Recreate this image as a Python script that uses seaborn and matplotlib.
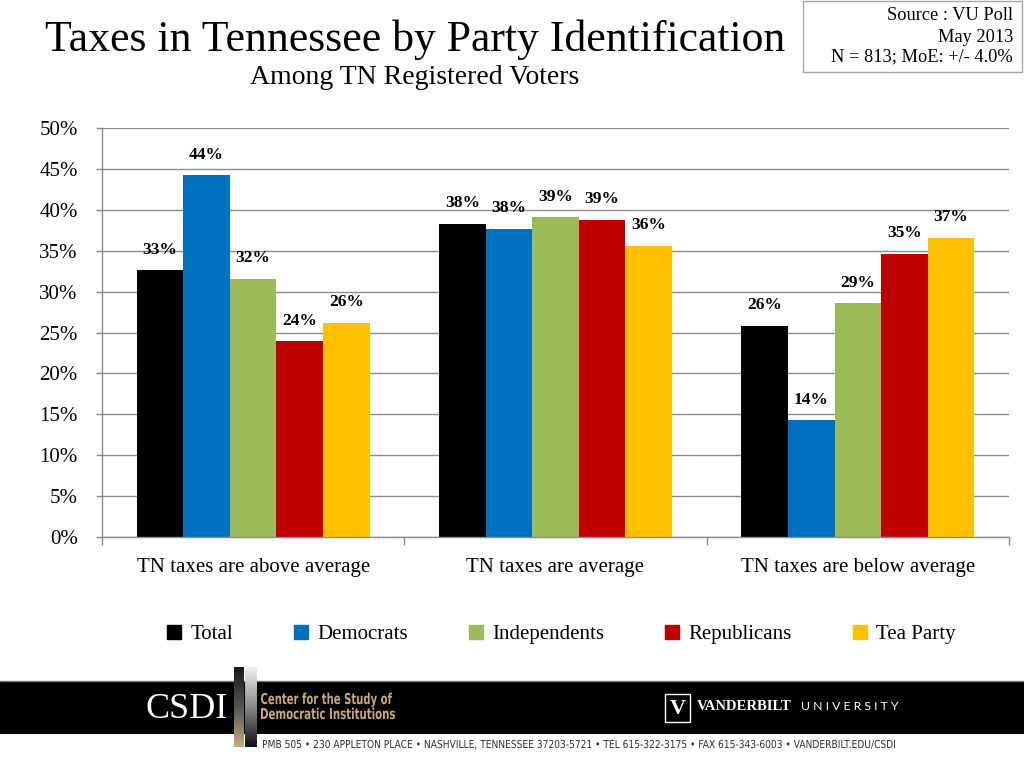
import numpy as np
import pandas as pd
import matplotlib
matplotlib.use("Agg")
import matplotlib.pyplot as plt
from matplotlib.lines import Line2D
from matplotlib.patches import Rectangle, PathPatch
from matplotlib.textpath import TextPath
from matplotlib.font_manager import FontProperties
from matplotlib.transforms import Affine2D
from matplotlib.ticker import MultipleLocator, FixedLocator, PercentFormatter
import seaborn as sns

# data
categories = ["TN taxes are above average", "TN taxes are average", "TN taxes are below average"]
groups = ["Total", "Democrats", "Independents", "Republicans", "Tea Party"]
total = [32.6, 38.3, 25.8]
democrats = [44.2, 37.7, 14.3]
independents = [31.6, 39.1, 28.6]
republicans = [23.9, 38.8, 34.6]
tea_party = [26.2, 35.6, 36.6]
colors = ["#000000", "#0070C0", "#9BBB59", "#C00000", "#FFC000"]

rows = []
for g, vals in zip(groups, [total, democrats, independents, republicans, tea_party]):
    for c, v in zip(categories, vals):
        rows.append({"category": c, "group": g, "value": v})
df = pd.DataFrame(rows)

sns.set_theme(style="white")
plt.rcParams["font.family"] = ["Liberation Serif", "DejaVu Serif"]
plt.rcParams["text.color"] = "black"
plt.rcParams["xtick.color"] = "black"
plt.rcParams["ytick.color"] = "black"

fig = plt.figure(figsize=(10.24, 7.68), dpi=100)
ax = fig.add_axes([102 / 1024, 1 - 537 / 768, (1009 - 102) / 1024, (537 - 128) / 768])

sns.barplot(data=df, x="category", y="value", hue="group", order=categories,
            hue_order=groups, palette=colors, width=0.77, saturation=1,
            linewidth=0, legend=False, ax=ax)

for cont in ax.containers:
    ax.bar_label(cont, fmt="{:.0f}%", padding=9, fontsize=12.5, fontweight="bold",
                 color="black")

ax.set_ylim(0, 50)
ax.set_xlim(-0.5, 2.5)
ax.yaxis.set_major_locator(MultipleLocator(5))
ax.yaxis.set_major_formatter(PercentFormatter(decimals=0))
ax.yaxis.grid(True, color="#8c8c8c", lw=1)
ax.set_axisbelow(True)
ax.set_xlabel("")
ax.set_ylabel("")
for s in ["top", "right"]:
    ax.spines[s].set_visible(False)
for s in ["left", "bottom"]:
    ax.spines[s].set_color("#8c8c8c")
    ax.spines[s].set_linewidth(1)
ax.tick_params(axis="y", left=True, length=4.5, width=1, color="#8c8c8c", pad=13,
               labelsize=15, labelcolor="black")
ax.tick_params(axis="x", which="major", length=0, pad=15, labelsize=15, labelcolor="black")
ax.xaxis.set_minor_locator(FixedLocator([-0.5, 0.5, 1.5, 2.5]))
ax.tick_params(axis="x", which="minor", bottom=True, length=6, width=1, color="#8c8c8c")

# legend
handles = [Line2D([], [], marker="s", ls="", markersize=10, color=c) for c in colors]
fig.legend(handles, groups, loc="center", bbox_to_anchor=(0.548, 1 - 634 / 768), ncol=5,
           frameon=False, fontsize=15, handlelength=0.7, handletextpad=0.45,
           columnspacing=2.9)

# titles
fig.text(415 / 1024, 1 - 40 / 768, "Taxes in Tennessee by Party Identification",
         ha="center", va="center", fontsize=31.5)
fig.text(415 / 1024, 1 - 77 / 768, "Among TN Registered Voters",
         ha="center", va="center", fontsize=20)

# overlay for source box and footer, pixel coordinates
ov = fig.add_axes([0, 0, 1, 1], zorder=5)
ov.axis("off")
ov.patch.set_alpha(0)


def squeezed(x, baseline, s, size_px, width_px, color, weight="normal"):
    # text drawn as a path, squeezed to a given width (condensed look)
    tp = TextPath((0, 0), s, size=size_px,
                  prop=FontProperties(family="DejaVu Sans", weight=weight))
    bb = tp.get_extents()
    tr = Affine2D().translate(-bb.x0, 0).scale(width_px / bb.width, -1).translate(x, baseline)
    ov.add_patch(PathPatch(tr.transform_path(tp), color=color, lw=0, zorder=4))


ov.add_patch(Rectangle((803, 1), 219, 71, fill=False, ec="#a6a6a6", lw=1))
ov.text(1013, 16, "Source : VU Poll", ha="right", va="center", fontsize=13.2)
ov.text(1013, 37, "May 2013", ha="right", va="center", fontsize=13.2)
ov.text(1013, 57, "N = 813; MoE: +/- 4.0%", ha="right", va="center", fontsize=13.2)

# footer band
ov.add_patch(Rectangle((0, 681), 1024, 53, color="black", lw=0, zorder=1))
ov.plot([0, 1024], [681, 681], color="#777777", lw=1, zorder=2)
grad = np.linspace(0, 1, 100).reshape(-1, 1)
ov.imshow(grad, cmap=matplotlib.colors.LinearSegmentedColormap.from_list(
    "g1", ["#1a1a1a", "#555555", "#c5a97a"]), extent=(234, 244, 747, 667),
    aspect="auto", zorder=3)
ov.imshow(grad, cmap=matplotlib.colors.LinearSegmentedColormap.from_list(
    "g2", ["#f0f0f0", "#888888", "#111111"]), extent=(245, 257, 747, 667),
    aspect="auto", zorder=3)
ov.set_xlim(0, 1024)
ov.set_ylim(768, 0)

ov.text(187, 709, "CSDI", color="white", ha="center", va="center", fontsize=26)
squeezed(261, 704, "Center for the Study of", 15, 131, "#c8aa72", "bold")
squeezed(261, 719, "Democratic Institutions", 15, 134, "#c8aa72", "bold")

ov.add_patch(Rectangle((665, 694), 25, 28, fill=False, ec="white", lw=1, zorder=4))
ov.text(677.5, 709, "V", color="white", ha="center", va="center", fontsize=16,
        fontweight="bold")
ov.text(697, 707, "VANDERBILT", color="white", ha="left", va="center", fontsize=10.6,
        fontweight="bold")
ov.text(801, 707, "U N I V E R S I T Y", color="white", ha="left", va="center",
        fontsize=8.8, family=["Lato", "DejaVu Sans"])

squeezed(263, 748, "PMB 505 \u2022 230 APPLETON PLACE \u2022 NASHVILLE, TENNESSEE 37203-5721 "
         "\u2022 TEL 615-322-3175 \u2022 FAX 615-343-6003 \u2022 VANDERBILT.EDU/CSDI",
         11, 632, "#333333")

fig.savefig("out.png", dpi=100)
